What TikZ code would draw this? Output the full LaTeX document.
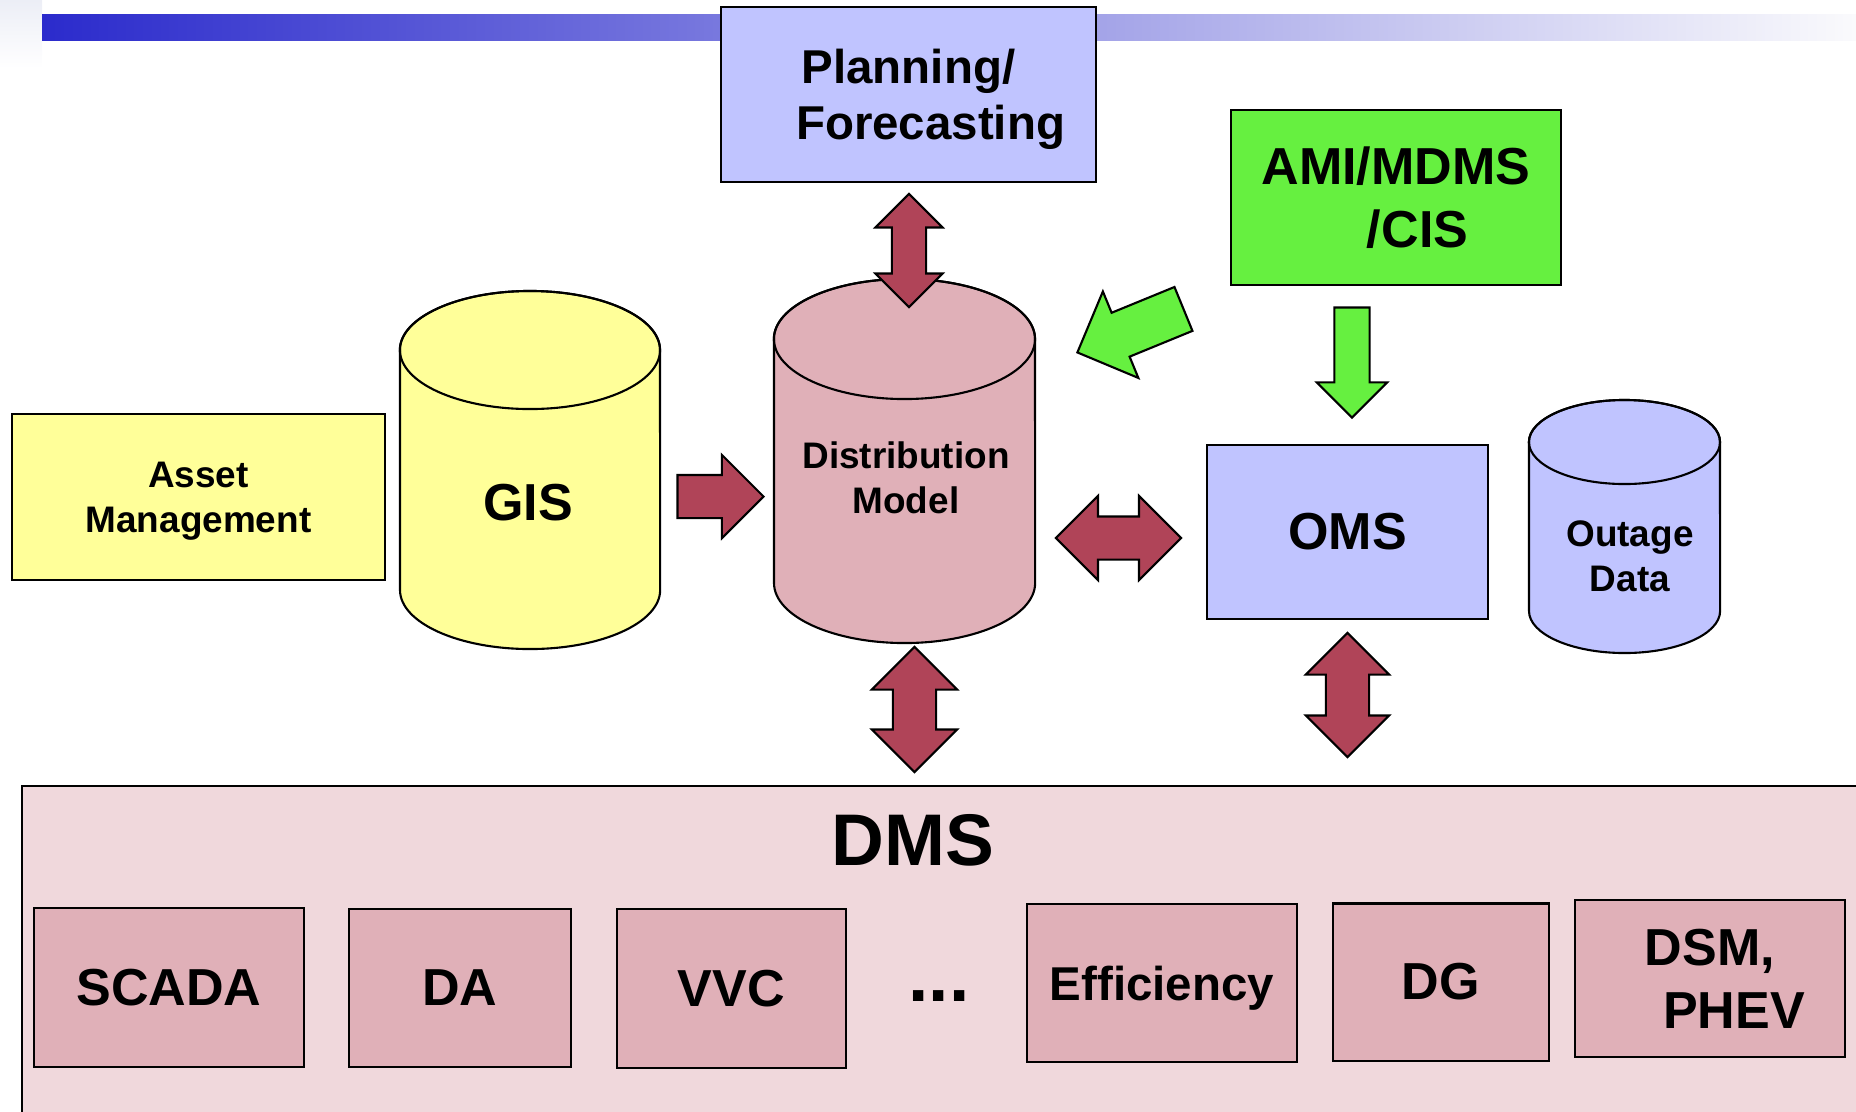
\documentclass[tikz,border=0pt]{standalone}
\usepackage{fontspec}
\setmainfont{Liberation Sans}
\usetikzlibrary{shapes.arrows}

\definecolor{arrowred}{RGB}{176,68,88}
\definecolor{rosefill}{RGB}{224,176,184}
\definecolor{dmsfill}{RGB}{240,216,220}
\definecolor{lavfill}{RGB}{192,196,255}
\definecolor{yelfill}{RGB}{255,255,153}
\definecolor{greenfill}{RGB}{102,240,64}
\definecolor{barblue}{RGB}{43,43,204}
\definecolor{barmid}{RGB}{192,192,230}
\definecolor{barend}{RGB}{250,250,252}
\definecolor{cornergray}{RGB}{236,238,246}

\newcommand{\fbig}{\fontsize{14.8}{17.9}\selectfont\bfseries}
\newcommand{\fmid}{\fontsize{13.5}{15.9}\selectfont\bfseries}
\newcommand{\fsmall}{\fontsize{10.5}{12.8}\selectfont\bfseries}
\newcommand{\fhuge}{\fontsize{20.8}{25}\selectfont\bfseries}

\begin{document}
\begin{tikzpicture}[x=0.01cm,y=-0.01cm,
    box/.style={draw, line width=0.6pt, inner sep=0pt, align=center},
    appbox/.style={box, fill=rosefill, font=\fbig},
    cyl/.style={draw, line width=0.6pt},
    txt/.style={inner sep=0pt, align=center},
    redsingle/.style={single arrow, draw, line width=0.6pt, fill=arrowred, inner xsep=0pt, anchor=tip},
    reddouble/.style={double arrow, draw, line width=0.6pt, fill=arrowred, inner xsep=0pt},
    greensingle/.style={single arrow, draw, line width=0.6pt, fill=greenfill, inner xsep=0pt, anchor=tip}]
   \useasboundingbox (0,0) rectangle (1856,1111);
   \clip (0,0) rectangle (1856,1111);
   % title bar
   \shade[top color=cornergray, bottom color=white] (0,0) rectangle (42,68);
   \shade[left color=barblue, middle color=barmid, right color=barend] (42,14) rectangle (1856,40);

   \node[box, fill=lavfill, font=\fmid, minimum width=3.75cm, minimum height=1.75cm, text depth=0pt] (plan) at (908.5,94.5) {Planning/\\\hspace*{0.93em}Forecasting};
   \node[box, fill=greenfill, font=\fbig, minimum width=3.30cm, minimum height=1.75cm] (ami) at (1396,197.5) {AMI/MDMS\\\hspace*{0.83em}/CIS};
   \node[box, fill=yelfill, font=\fsmall, minimum width=3.73cm, minimum height=1.66cm, text depth=0pt] (asset) at (198.5,497) {Asset\\Management};
   \node[box, fill=lavfill, font=\fbig, minimum width=2.81cm, minimum height=1.74cm] (oms) at (1347.5,532) {OMS};

   % databases
   \draw[cyl, fill=yelfill] (400,350) -- (400,590) arc[start angle=180, end angle=360, x radius=1.30cm, y radius=0.59cm]
      -- (660,350) arc[start angle=0, end angle=180, x radius=1.30cm, y radius=0.59cm] -- cycle;
   \draw[cyl] (530,350) ellipse[x radius=1.30cm, y radius=0.59cm];
   \node[txt, font=\fbig] (gis) at (528,503) {GIS};

   \draw[cyl, fill=rosefill] (774,339) -- (774,583) arc[start angle=180, end angle=360, x radius=1.305cm, y radius=0.60cm]
      -- (1035,339) arc[start angle=0, end angle=180, x radius=1.305cm, y radius=0.60cm] -- cycle;
   \draw[cyl] (904.5,339) ellipse[x radius=1.305cm, y radius=0.60cm];
   \node[txt, font=\fsmall] (dist) at (906,478) {Distribution\\Model};

   \draw[cyl, fill=lavfill] (1529,442) -- (1529,611) arc[start angle=180, end angle=360, x radius=0.955cm, y radius=0.42cm]
      -- (1720,442) arc[start angle=0, end angle=180, x radius=0.955cm, y radius=0.42cm] -- cycle;
   \draw[cyl] (1624.5,442) ellipse[x radius=0.955cm, y radius=0.42cm];
   \node[txt, font=\fsmall] (outage) at (1630,556) {Outage\\Data};

   % block arrows
   \node[reddouble, rotate=90, inner ysep=0.16cm, minimum height=1.13cm, minimum width=0.65cm, double arrow head extend=0.165cm] (planarrow) at (909,250.5) {};
   \node[redsingle, inner ysep=0.205cm, minimum height=0.86cm, minimum width=0.81cm, single arrow head extend=0.20cm] (gisarrow) at (765,496.5) {};
   \node[reddouble, inner ysep=0.205cm, minimum height=1.25cm, minimum width=0.82cm, double arrow head extend=0.205cm] (omsarrow) at (1118.5,538) {};
   \node[reddouble, rotate=90, inner ysep=0.205cm, minimum height=1.25cm, minimum width=0.83cm, double arrow head extend=0.21cm] (dmsarrow) at (914.5,709.5) {};
   \node[reddouble, rotate=90, inner ysep=0.205cm, minimum height=1.24cm, minimum width=0.81cm, double arrow head extend=0.20cm] (omsdmsarrow) at (1347.5,695) {};
   \node[greensingle, rotate=-90, inner ysep=0.165cm, minimum height=1.10cm, minimum width=0.68cm, single arrow head extend=0.175cm] (amiarrow) at (1352,419) {};
   \node[greensingle, rotate=202.3, inner ysep=0.2265cm, minimum height=1.146cm, minimum width=0.914cm, single arrow head extend=0.23cm] (diagarrow) at (1076,353) {};

   % DMS panel
   \node[box, fill=dmsfill, anchor=north west, minimum width=18.6cm, minimum height=3.6cm] (dms) at (21,785) {};
   \node[txt, font=\fhuge] (dmstitle) at (913,840) {DMS};
   \node[appbox, minimum width=2.70cm, minimum height=1.59cm] (scada) at (169,987.5) {SCADA};
   \node[appbox, minimum width=2.22cm, minimum height=1.58cm] (da) at (460,988) {DA};
   \node[appbox, minimum width=2.29cm, minimum height=1.59cm] (vvc) at (731.5,988.5) {VVC};
   \node[txt, font=\fhuge] (more) at (939,996) {...};
   \node[appbox, font=\fmid, minimum width=2.70cm, minimum height=1.58cm, text depth=0pt] (eff) at (1162,983) {Efficiency};
   \node[appbox, minimum width=2.16cm, minimum height=1.57cm] (dg) at (1441,982) {DG};
   \node[appbox, minimum width=2.70cm, minimum height=1.57cm] (dsm) at (1710,978.5) {DSM,\\\hspace*{0.92em}PHEV};
\end{tikzpicture}
\end{document}
